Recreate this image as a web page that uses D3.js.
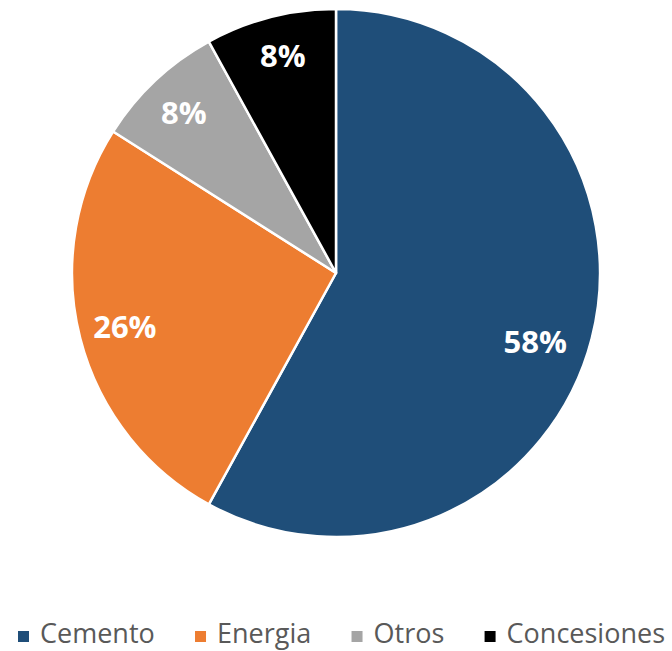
<!DOCTYPE html>
<html><head><meta charset="utf-8">
<script src="https://cdn.jsdelivr.net/npm/d3@7"></script>
<style>body{margin:0;background:#fff}</style>
</head><body>
<svg id="c" width="672" height="651"></svg>
<script>
const categories = ["Cemento", "Energia", "Otros", "Concesiones"];
const values = [58, 26, 8, 8];
const colors = ["#1F4E79", "#ED7D31", "#A5A5A5", "#000000"];
// label nudges (style only)
const labelNudge = [[-12, 15], [0, 0], [-3, -1], [1, -6]];

const svg = d3.select("#c");
const cx = 336, cy = 273, R = 264;
const g = svg.append("g").attr("transform", `translate(${cx},${cy})`);
const pie = d3.pie().sort(null).value(d => d);
const arcs = pie(values);
const arc = d3.arc().innerRadius(0).outerRadius(R);
const labelArc = d3.arc().innerRadius(218).outerRadius(218);

g.selectAll("path").data(arcs).join("path")
  .attr("d", arc).attr("fill", (d,i) => colors[i])
  .attr("stroke", "#fff").attr("stroke-width", 2.5).attr("stroke-linejoin","round");

g.selectAll("text").data(arcs).join("text")
  .attr("transform", (d,i) => {
    const c = labelArc.centroid(d);
    return `translate(${c[0] + labelNudge[i][0]},${c[1] + labelNudge[i][1]})`;
  })
  .attr("text-anchor", "middle").attr("dy", "0.36em")
  .attr("font-family", "Open Sans, sans-serif").attr("font-weight", "bold")
  .attr("font-size", 31).attr("fill", "#fff")
  .text((d,i) => values[i] + "%");

const lg = svg.append("g");
const items = lg.selectAll("g").data(categories).join("g");
items.append("rect").attr("width", 11).attr("height", 11).attr("y", -12)
  .attr("fill", (d,i) => colors[i]);
items.append("text").attr("x", 22).attr("y", 0)
  .attr("font-family", "Open Sans, sans-serif").attr("font-size", 27)
  .attr("fill", "#595959").text(d => d);
const widths = [];
items.each(function(){ widths.push(this.getBBox().width); });
const start = 18, end = 665;
const gap = (end - start - d3.sum(widths)) / (widths.length - 1);
let x = start; const xs = [];
widths.forEach(w => { xs.push(x); x += w + gap; });
items.attr("transform", (d,i) => `translate(${xs[i]},643)`);
</script>
</body></html>
